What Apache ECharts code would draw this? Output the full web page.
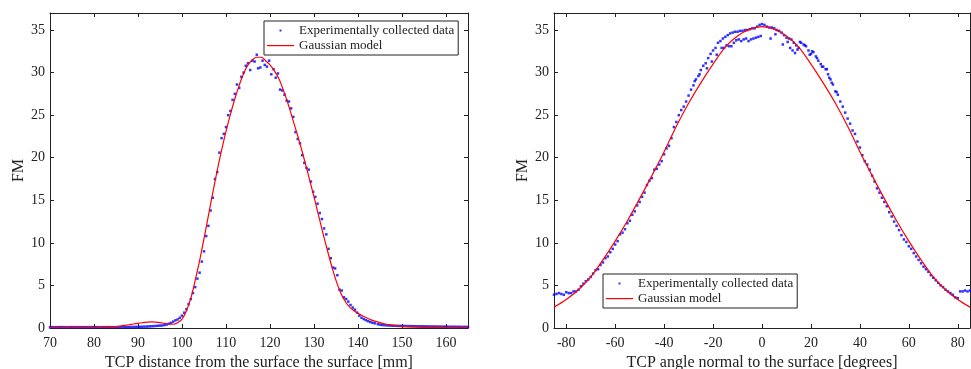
<!DOCTYPE html>
<html>
<head>
<meta charset="utf-8">
<script src="https://cdn.jsdelivr.net/npm/echarts@6/dist/echarts.min.js"></script>
<style>
  html, body { margin: 0; padding: 0; background: #fff; }
  #chart { width: 971px; height: 369px; }
</style>
</head>
<body>
<div id="chart"></div>
<script>
// tick labels
const distTicks = [70, 80, 90, 100, 110, 120, 130, 140, 150, 160];
const angleTicks = [-80, -60, -40, -20, 0, 20, 40, 60, 80];
const fmTicks = [0, 5, 10, 15, 20, 25, 30, 35];

// left panel: FM vs TCP distance [mm]
const distPoints = [
  [70,0.1],[70.5,0.1],[71,0.09],[71.5,0.1],[72,0.1],[72.5,0.11],[73,0.1],[73.5,0.1],[74,0.09],[74.5,0.1],
  [75,0.1],[75.5,0.1],[76,0.11],[76.5,0.1],[77,0.1],[77.5,0.09],[78,0.1],[78.5,0.1],[79,0.1],[79.5,0.11],
  [80,0.1],[80.5,0.1],[81,0.1],[81.5,0.09],[82,0.1],[82.5,0.1],[83,0.1],[83.5,0.11],[84,0.1],[84.5,0.1],
  [85,0.1],[85.5,0.1],[86,0.11],[86.5,0.1],[87,0.1],[87.5,0.12],[88,0.11],[88.5,0.12],[89,0.12],[89.5,0.13],
  [90,0.13],[90.5,0.14],[91,0.15],[91.5,0.16],[92,0.17],[92.5,0.19],[93,0.2],[93.5,0.22],[94,0.24],[94.5,0.26],
  [95,0.28],[95.5,0.3],[96,0.35],[96.5,0.4],[97,0.5],[97.5,0.6],[98,0.75],[98.5,0.9],[99,1.0],[99.5,1.2],
  [100,1.45],[100.5,1.8],[101,2.2],[101.5,2.8],[102,3.4],[102.5,4.1],[103,4.8],[103.5,5.8],[104,6.5],[104.5,7.8],
  [105,9.0],[105.5,10.8],[106,12.0],[106.5,13.8],[107,15.3],[107.5,17.5],[108,18.3],[108.5,20.6],[109,22.3],[109.5,22.8],
  [110,23.6],[110.5,25.0],[111,25.5],[111.5,26.8],[112,27.5],[112.5,28.6],[113,28.2],[113.5,29.5],[114,30.0],[114.5,30.8],
  [115,31.1],[115.5,30.3],[116,31.4],[116.5,31.3],[117,32.1],[117.3,30.5],[117.8,30.6],[118.3,31.4],[118.8,30.9],[119.3,30.7],
  [119.8,31.4],[120.3,29.8],[120.8,30.4],[121.3,29.4],[121.8,29.9],[122.3,28.0],[122.8,27.9],[123.3,27.4],[123.8,26.7],[124.3,26.6],
  [124.8,25.8],[125.3,24.8],[125.8,23.0],[126.3,22.2],[126.8,21.7],[127.3,20.3],[127.8,19.4],[128.3,18.8],[128.8,18.6],[129.3,17.2],
  [129.8,16.0],[130.3,15.4],[130.8,14.6],[131.3,13.5],[131.8,12.8],[132.3,11.7],[132.8,11.0],[133.3,9.3],[133.8,8.2],[134.3,7.1],
  [134.8,7.0],[135.3,6.2],[135.8,4.5],[136.3,4.4],[136.8,3.6],[137.3,3.4],[137.8,3.1],[138.3,2.7],[138.8,2.4],[139.3,2.15],
  [139.8,1.8],[140.3,1.45],[140.8,1.2],[141.3,1.05],[141.8,0.92],[142.3,0.8],[142.8,0.7],[143.3,0.62],[143.8,0.55],[144.5,0.45],
  [145,0.4],[145.5,0.36],[146,0.33],[146.5,0.31],[147,0.3],[147.5,0.28],[148,0.27],[148.5,0.26],[149,0.25],[149.5,0.25],
  [150,0.24],[150.5,0.23],[151,0.23],[151.5,0.22],[152,0.22],[152.5,0.21],[153,0.21],[153.5,0.2],[154,0.2],[154.5,0.2],
  [155,0.19],[155.5,0.19],[156,0.18],[156.5,0.18],[157,0.18],[157.5,0.17],[158,0.17],[158.5,0.17],[159,0.16],[159.5,0.16],
  [160,0.16],[160.5,0.15],[161,0.15],[161.5,0.15],[162,0.14],[162.5,0.14],[163,0.14],[163.5,0.13],[164,0.13],[164.5,0.13],[165,0.12]
];
const distModel = [
  [70,0.05],[75,0.05],[80,0.06],[82,0.08],[83,0.1],[84,0.13],[85,0.17],[86,0.23],[87,0.3],[88,0.38],
  [89,0.47],[90,0.55],[91,0.62],[92,0.68],[93,0.72],[94,0.7],[95,0.64],[96,0.55],[97,0.47],[98,0.44],
  [99,0.62],[100,1.05],[101,2.0],[102,3.5],[103,5.6],[104,7.9],[105,10.5],[106,13.2],[107,15.9],[108,18.5],
  [109,20.9],[110,23.1],[111,25.1],[112,26.9],[113,28.5],[114,29.9],[115,30.9],[116,31.5],[117,31.8],[118,31.8],
  [119,31.4],[120,30.9],[121,30.2],[122,29.3],[123,28.0],[124,26.5],[125,24.8],[126,23.1],[127,21.3],[128,19.4],
  [129,17.4],[130,15.4],[131,13.3],[132,11.2],[133,9.2],[134,7.3],[135,5.6],[136,4.2],[137,3.2],[138,2.5],
  [139,2.05],[140,1.72],[141,1.43],[142,1.18],[143,0.96],[144,0.78],[145,0.63],[146,0.5],[147,0.4],[148,0.32],
  [150,0.2],[152,0.13],[155,0.08],[160,0.06],[165,0.05]
];

// right panel: FM vs TCP angle [degrees]
const anglePoints = [
  [-85,3.9],[-84,4.0],[-83,4.1],[-82,4.0],[-81,3.9],[-80,4.2],[-79,4.1],[-78,4.1],[-77,4.3],[-76,4.3],
  [-75,4.5],[-74,4.9],[-73,5.2],[-72,5.5],[-71,5.7],[-70,6.0],[-69,6.4],[-68,6.8],[-67,6.9],[-66,7.4],
  [-65,7.7],[-64,8.2],[-63,8.4],[-62,8.9],[-61,9.3],[-60,9.8],[-59,10.2],[-58,11.0],[-57,11.2],[-56,11.6],
  [-55,12.3],[-54,12.6],[-53,13.3],[-52,13.7],[-51,14.4],[-50,14.8],[-49,15.4],[-48,15.9],[-47,16.8],[-46,17.3],
  [-45,17.6],[-44,18.6],[-43,18.7],[-42,19.2],[-41,19.6],[-40,20.4],[-39,21.1],[-38,21.4],[-37,22.3],[-36,23.6],
  [-35,24.2],[-34,25.0],[-33,25.6],[-32,26.0],[-31,26.6],[-30,27.3],[-29,28.0],[-28,28.5],[-27,29.2],[-26,29.6],
  [-25,30.3],[-24,30.8],[-23,31.1],[-22,31.7],[-21,32.2],[-20,32.6],[-19,32.9],[-18,33.5],[-17,33.7],[-16,34.0],
  [-15,34.2],[-14,34.4],[-13,34.6],[-12,34.7],[-11,34.8],[-10,34.8],[-9,34.9],[-8,34.9],[-7,35.0],[-6,35.0],
  [-5,35.1],[-4,35.2],[-3,35.2],[-2,35.4],[-1,35.6],[0,35.7],[1,35.6],[2,35.4],[3,35.3],[4,35.3],
  [5,35.2],[6,35.0],[7,34.9],[8,34.7],[9,34.4],[10,34.1],[11,34.0],[12,33.9],[13,33.5],[14,33.2],
  [15,32.9],[16,33.5],[17,33.3],[18,33.1],[19,32.6],[20,32.2],[21,32.4],[22,31.9],[23,31.4],[24,31.0],
  [25,30.7],[26,30.4],[27,29.8],[28,29.2],[29,28.6],[30,27.8],[31,27.4],[32,26.6],[33,26.0],[34,25.3],
  [35,24.6],[36,24.0],[37,23.2],[38,22.8],[39,21.9],[40,21.2],[41,20.3],[42,19.6],[43,19.2],[44,18.6],
  [45,17.9],[46,17.2],[47,16.4],[48,15.9],[49,15.3],[50,14.8],[51,14.3],[52,13.6],[53,13.1],[54,12.5],
  [55,12.0],[56,11.5],[57,10.9],[58,10.4],[59,10.1],[60,9.6],[61,9.3],[62,8.8],[63,8.4],[64,8.0],
  [65,7.6],[66,7.2],[67,6.9],[68,6.6],[69,6.2],[70,5.9],[71,5.6],[72,5.3],[73,5.0],[74,4.8],
  [75,4.5],[76,4.3],[77,4.1],[78,3.9],[79,3.6],[80,3.5],[81,4.3],[82,4.3],[83,4.4],[84,4.3],[85,4.4],
  // second sweep near the top
  [-27.5,29.0],[-25.5,29.8],[-22.5,30.5],[-20.5,31.3],[-18.5,32.1],[-16.5,32.9],[-15.5,32.9],[-14.5,33.2],
  [-13.5,33.1],[-12.5,33.1],[-11.5,33.5],[-10.5,33.8],[-9.5,33.9],[-8.5,33.7],[-7.5,33.9],[-6.5,34.0],
  [-5.5,33.7],[-4.5,33.9],[-3.5,34.0],[-2.5,34.1],[-1.5,34.2],[-0.5,34.3],[3.5,34.0],[5.5,34.5],
  [8.5,33.3],[10.5,33.6],[11.5,32.9],[12.5,32.6],[13.5,32.3],[14.5,32.7],[15.5,33.6],[17.5,33.2],
  [19.5,32.1],[20.5,32.5],[22.5,31.7],[24.5,30.7],[26.5,30.4],[27.5,29.4],[28.5,28.8],[30.5,27.7]
];
const angleModel = [
  [-85,2.45],[-80,3.35],[-75,4.5],[-70,6.0],[-65,8.0],[-60,10.2],[-55,12.6],[-50,15.2],[-45,17.9],[-40,20.7],
  [-35,23.7],[-30,26.4],[-25,28.8],[-20,31.0],[-15,33.0],[-10,34.3],[-5,35.1],[0,35.4],[5,35.1],[10,34.3],
  [15,33.0],[20,31.0],[25,28.8],[30,26.4],[35,23.7],[40,20.7],[45,17.9],[50,15.2],[55,12.6],[60,10.2],
  [65,8.0],[70,6.0],[75,4.5],[80,3.35],[85,2.45]
];

const FONT = 'Liberation Serif';
const INK = '#222';
const DOT_ICON = 'path://M0,0 M27,3 M12.5,0.5 L14.5,0.5 L14.5,2.5 L12.5,2.5 Z';
const LINE_ICON = 'path://M0,0 M27,3 M0,1 L27,1 L27,2.2 L0,2.2 Z';

function xAxes(gridIndex, min, max, ticks, title) {
  const base = {
    type: 'value', gridIndex: gridIndex, min: min, max: max,
    splitLine: { show: false },
    axisLine: { onZero: false, lineStyle: { color: INK, width: 1 } },
    axisTick: { inside: true, length: 4, customValues: ticks, lineStyle: { color: INK } }
  };
  return [
    Object.assign({}, base, {
      position: 'bottom',
      axisLabel: { customValues: ticks, color: INK, fontFamily: FONT, fontSize: 14, margin: 8 },
      name: title, nameLocation: 'middle', nameGap: 24,
      nameTextStyle: { color: INK, fontFamily: FONT, fontSize: 16 }
    }),
    Object.assign({}, base, { position: 'top', axisLabel: { show: false } })
  ];
}

function yAxes(gridIndex) {
  const base = {
    type: 'value', gridIndex: gridIndex, min: 0, max: 37,
    splitLine: { show: false },
    axisLine: { onZero: false, lineStyle: { color: INK, width: 1 } },
    axisTick: { inside: true, length: 4, customValues: fmTicks, lineStyle: { color: INK } }
  };
  return [
    Object.assign({}, base, {
      position: 'left',
      axisLabel: { customValues: fmTicks, color: INK, fontFamily: FONT, fontSize: 14, margin: 5 },
      name: 'FM', nameLocation: 'middle', nameGap: 19,
      nameTextStyle: { color: INK, fontFamily: FONT, fontSize: 16 }
    }),
    Object.assign({}, base, { position: 'right', axisLabel: { show: false } })
  ];
}

function legendAt(left, top) {
  return {
    left: left, top: top, orient: 'vertical',
    data: [
      { name: 'Experimentally collected data', icon: DOT_ICON },
      { name: 'Gaussian model', icon: LINE_ICON }
    ],
    backgroundColor: '#fff', borderColor: INK, borderWidth: 1,
    padding: [2, 4, 2, 3], itemWidth: 27, itemHeight: 3, itemGap: 0,
    textStyle: { color: INK, fontFamily: FONT, fontSize: 13, lineHeight: 15 }
  };
}

function pointSeries(axisIndex, data) {
  return {
    name: 'Experimentally collected data', type: 'scatter',
    xAxisIndex: axisIndex, yAxisIndex: axisIndex,
    symbol: 'rect', symbolSize: 2.5, data: data,
    itemStyle: { color: '#0000ff' }, silent: true, z: 2
  };
}

function modelSeries(axisIndex, data) {
  return {
    name: 'Gaussian model', type: 'line',
    xAxisIndex: axisIndex, yAxisIndex: axisIndex,
    showSymbol: false, symbol: 'none', smooth: 0.35, data: data,
    lineStyle: { color: '#ff0000', width: 1.2 }, itemStyle: { color: '#ff0000' },
    silent: true, z: 3
  };
}

const chart = echarts.init(document.getElementById('chart'));
chart.setOption({
  animation: false,
  backgroundColor: '#fff',
  grid: [
    { left: 50, top: 13, width: 418, height: 315, outerBoundsMode: 'none' },
    { left: 554, top: 13, width: 416, height: 315, outerBoundsMode: 'none' }
  ],
  xAxis: xAxes(0, 70, 165, distTicks, 'TCP distance from the surface the surface [mm]')
    .concat(xAxes(1, -85, 85, angleTicks, 'TCP angle normal to the surface [degrees]')),
  yAxis: yAxes(0).concat(yAxes(1)),
  legend: [legendAt(264, 21), legendAt(603, 274)],
  series: [
    pointSeries(0, distPoints),
    modelSeries(0, distModel),
    pointSeries(2, anglePoints),
    modelSeries(2, angleModel)
  ]
});
</script>
</body>
</html>
